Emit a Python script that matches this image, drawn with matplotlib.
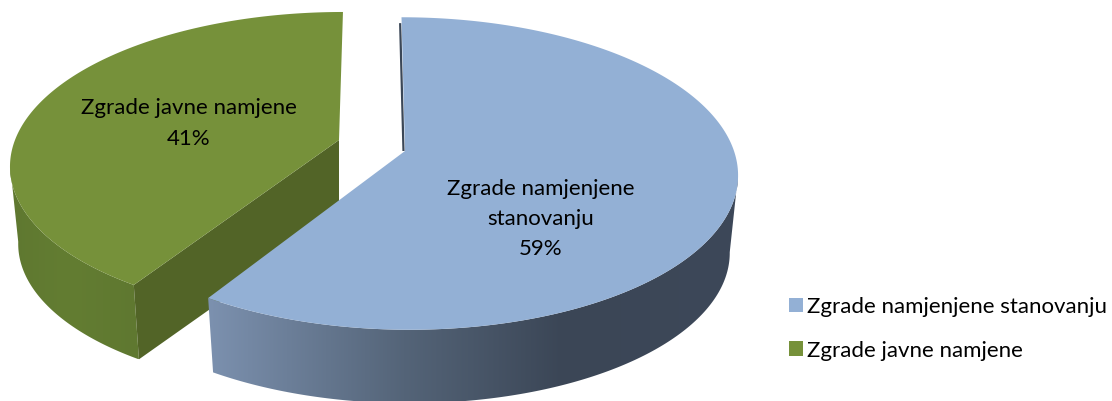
import numpy as np
import matplotlib
matplotlib.use('Agg')
import matplotlib.pyplot as plt
from matplotlib.colors import LinearSegmentedColormap
from matplotlib.patches import Patch, Polygon

plt.rcParams['font.family'] = ['Lato', 'DejaVu Sans']

# Data
names = ['Zgrade namjenjene stanovanju', 'Zgrade javne namjene']
shares = [59, 41]

# Colours
blue_top = '#93b0d5'
green_top = '#76913a'
green_side = '#526427'
blue_dark = '#3b4757'

# Perspective of each exploded slice: apex, radii, tilt, shear
blue_view = dict(cx=405, cy=151, a=329, b=153, k=0.144, s=4)
green_view = dict(cx=339, cy=140, a=324, b=148.5, k=0.16, s=-4.6)
depth = 78  # height of the pie in pixels
shrink = 0.975  # lower face looks a bit smaller


def project(phi, view, r=1.0, lower=False):
    # phi in degrees, clockwise from 12 o'clock
    rad = np.radians(phi)
    X, Y = r * np.sin(rad), -r * np.cos(rad)
    w = 1 - view['k'] * Y
    dx = (view['a'] * X + view['s'] * Y) / w
    dy = view['b'] * Y / w
    if lower:
        return view['cx'] + shrink * dx, view['cy'] + depth + shrink * dy
    return view['cx'] + dx, view['cy'] + dy


def wedge(start, end, view):
    phi = np.linspace(start, end, 300)
    x, y = project(phi, view)
    ax_, ay_ = project(0.0, view, r=0.0)
    return np.column_stack([np.r_[ax_, x], np.r_[ay_, y]])


def rim(start, end, view):
    # only the part of the outer wall turned towards the viewer
    phi = np.linspace(start, end, 300)
    phi = phi[-np.cos(np.radians(phi)) >= view['k']]
    x1, y1 = project(phi, view)
    x2, y2 = project(phi, view, lower=True)
    return np.column_stack([np.r_[x1, x2[::-1]], np.r_[y1, y2[::-1]]])


fig = plt.figure(figsize=(11.12, 4.01), dpi=100)
ax = fig.add_axes([0, 0, 1, 1])


def shaded(points, stops, zorder):
    cmap = LinearSegmentedColormap.from_list('rim', stops)
    x0, x1 = points[:, 0].min(), points[:, 0].max()
    im = ax.imshow(np.linspace(0, 1, 256)[None, :], cmap=cmap, aspect='auto',
                   extent=(x0, x1, points[:, 1].max(), points[:, 1].min()),
                   zorder=zorder, interpolation='bilinear')
    patch = Polygon(points, closed=True, transform=ax.transData, fc='none', ec='none')
    ax.add_patch(patch)
    im.set_clip_path(patch)


edges = np.cumsum([0] + shares) * 360 / sum(shares)

# Green slice
shaded(rim(edges[1], edges[2], green_view),
       [(0, '#5f7830'), (0.45, '#637d32'), (1, '#5f7830')], 1)
cx1, cy1 = project(edges[1], green_view)
cx2, cy2 = project(edges[1], green_view, lower=True)
ox1, oy1 = project(0.0, green_view, r=0.0)
ox2, oy2 = project(0.0, green_view, r=0.0, lower=True)
ax.fill([ox1, cx1, cx2, ox2], [oy1, cy1, cy2, oy2], color=green_side, lw=0, zorder=2)
ax.add_patch(Polygon(wedge(edges[1], edges[2], green_view), fc=green_top, ec='none', zorder=3))

# Blue slice
shaded(rim(edges[0], edges[1], blue_view),
       [(0, '#7c91af'), (0.37, '#546478'), (0.67, '#3b4656'), (1, '#3d4859')], 4)
sx, sy = project(edges[0], blue_view, r=np.linspace(0, 0.95, 20))
ax.plot(sx - 1.5, sy, color=blue_dark, lw=1.6, zorder=4, solid_capstyle='butt')
ax.add_patch(Polygon(wedge(edges[0], edges[1], blue_view), fc=blue_top, ec='none', zorder=5))

# Data labels
label_style = dict(ha='center', va='center', fontsize=16, color='black', zorder=6)
ax.text(189, 108, names[1], **label_style)
ax.text(189, 139, f'{shares[1]}%', **label_style)
ax.text(541, 189, 'Zgrade namjenjene', **label_style)
ax.text(541, 219, 'stanovanju', **label_style)
ax.text(541, 249, f'{shares[0]}%', **label_style)

ax.set_xlim(0, 1112)
ax.set_ylim(401, 0)
ax.axis('off')

handles = [Patch(fc=blue_top, ec='none'), Patch(fc=green_top, ec='none')]
ax.legend(handles, names, loc='upper left', bbox_to_anchor=(788.5, 297),
          bbox_transform=ax.transData, frameon=False, fontsize=16,
          handlelength=0.63, handleheight=0.63, handletextpad=0.22,
          labelspacing=1.06, borderpad=0, borderaxespad=0)

fig.savefig('out.png', dpi=100)
